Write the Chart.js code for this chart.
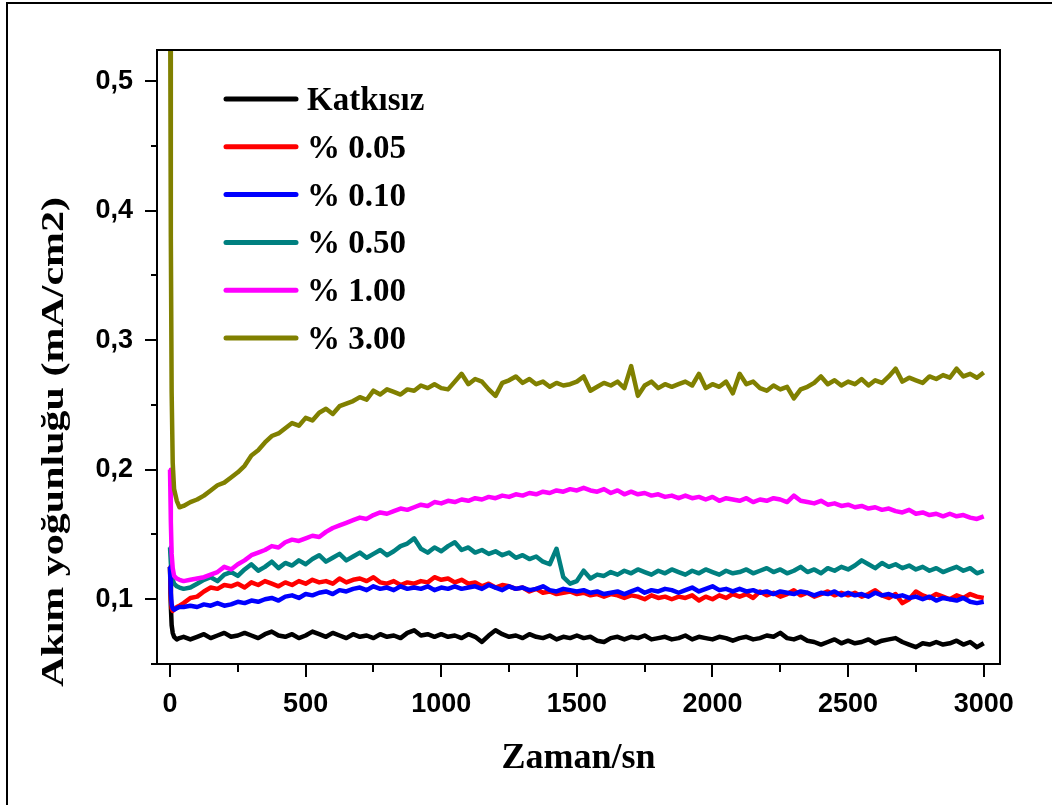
<!DOCTYPE html>
<html>
<head>
<meta charset="utf-8">
<script src="https://cdn.jsdelivr.net/npm/chart.js@4.4.1/dist/chart.umd.min.js"></script>
<style>
  html, body { margin: 0; padding: 0; background: #fff; }
  canvas { display: block; }
</style>
</head>
<body>
<canvas id="chart" width="1052" height="805"></canvas>
<script>
// time axis (s)
var times = [
  0, 3, 6, 10, 15, 25, 35, 50, 75,
  100, 125, 150, 175, 200, 225, 250, 275,
  300, 325, 350, 375, 400, 425, 450, 475,
  500, 525, 550, 575, 600, 625, 650, 675,
  700, 725, 750, 775, 800, 825, 850, 875,
  900, 925, 950, 975, 1000, 1025, 1050, 1075,
  1100, 1125, 1150, 1175, 1200, 1225, 1250, 1275,
  1300, 1325, 1350, 1375, 1400, 1425, 1450, 1475,
  1500, 1525, 1550, 1575, 1600, 1625, 1650, 1675,
  1700, 1725, 1750, 1775, 1800, 1825, 1850, 1875,
  1900, 1925, 1950, 1975, 2000, 2025, 2050, 2075,
  2100, 2125, 2150, 2175, 2200, 2225, 2250, 2275,
  2300, 2325, 2350, 2375, 2400, 2425, 2450, 2475,
  2500, 2525, 2550, 2575, 2600, 2625, 2650, 2675,
  2700, 2725, 2750, 2775, 2800, 2825, 2850, 2875,
  2900, 2925, 2950, 2975, 3000
];

var katkisiz = [
  .125, .095, .080, .074, .071, .069, .070, .071, .069,
  .071, .073, .070, .072, .074, .071, .072, .074,
  .072, .070, .073, .075, .072, .071, .073, .070,
  .072, .075, .073, .071, .074, .072, .070, .073,
  .071, .072, .070, .073, .071, .072, .070, .074,
  .076, .072, .073, .071, .073, .071, .072, .070,
  .073, .071, .067, .072, .076, .073, .071, .072,
  .070, .073, .071, .070, .072, .069, .071, .070,
  .072, .070, .071, .068, .067, .070, .071, .069,
  .071, .070, .072, .069, .070, .071, .069, .070,
  .072, .069, .071, .070, .069, .071, .070, .068,
  .070, .071, .069, .070, .072, .071, .074, .070,
  .069, .071, .068, .067, .065, .067, .069, .066,
  .068, .066, .067, .069, .066, .068, .069, .070,
  .067, .065, .063, .066, .065, .067, .065, .066,
  .068, .065, .067, .063, .066
];

var p005 = [
  .125, .100, .093, .091, .092, .094, .095, .097, .101,
  .102, .106, .109, .108, .111, .110, .112, .109,
  .113, .111, .114, .112, .110, .113, .111, .114,
  .112, .115, .113, .114, .112, .116, .113, .115,
  .116, .114, .117, .113, .112, .114, .111, .113,
  .112, .114, .113, .117, .115, .116, .113, .115,
  .112, .113, .110, .112, .109, .111, .110, .108,
  .109, .106, .108, .105, .106, .104, .105, .106,
  .104, .105, .103, .104, .102, .104, .103, .101,
  .103, .102, .100, .103, .101, .102, .100, .102,
  .101, .103, .099, .102, .100, .103, .101, .104,
  .102, .104, .101, .106, .103, .105, .102, .104,
  .107, .103, .105, .102, .104, .106, .103, .105,
  .103, .105, .102, .104, .107, .103, .101, .104,
  .097, .100, .106, .103, .101, .104, .102, .100,
  .103, .101, .104, .102, .101
];

var p010 = [
  .125, .105, .096, .093, .092, .093, .094, .094, .095,
  .094, .096, .095, .097, .095, .096, .098, .097,
  .099, .098, .100, .101, .099, .102, .103, .101,
  .104, .103, .105, .106, .104, .107, .106, .108,
  .109, .107, .110, .108, .109, .107, .110, .108,
  .109, .108, .110, .107, .109, .108, .110, .108,
  .109, .110, .108, .111, .109, .107, .110, .108,
  .109, .107, .108, .110, .107, .106, .108, .107,
  .106, .107, .105, .106, .104, .105, .106, .104,
  .106, .108, .105, .107, .106, .108, .107, .105,
  .107, .109, .106, .108, .110, .107, .108, .106,
  .108, .106, .107, .105, .106, .104, .106, .105,
  .104, .106, .105, .103, .105, .104, .106, .103,
  .105, .103, .104, .102, .105, .103, .104, .102,
  .103, .101, .102, .100, .102, .099, .101, .100,
  .099, .101, .098, .097, .098
];

var p050 = [
  .140, .128, .120, .115, .112, .110, .109, .108, .109,
  .112, .115, .117, .114, .119, .121, .118, .123,
  .127, .122, .125, .129, .124, .128, .126, .130,
  .127, .131, .134, .129, .132, .135, .130, .133,
  .136, .132, .135, .138, .134, .137, .141, .143,
  .147, .139, .136, .140, .137, .141, .144, .138,
  .140, .136, .138, .135, .137, .134, .136, .132,
  .134, .131, .133, .129, .127, .139, .117, .112,
  .114, .122, .116, .119, .118, .121, .119, .122,
  .120, .123, .121, .119, .122, .120, .123, .121,
  .119, .122, .120, .123, .121, .119, .122, .120,
  .121, .123, .120, .122, .124, .121, .123, .120,
  .122, .125, .121, .123, .120, .124, .122, .125,
  .123, .126, .130, .127, .124, .128, .125, .127,
  .124, .126, .123, .125, .122, .124, .121, .123,
  .125, .122, .124, .120, .122
];

var p100 = [
  .200, .160, .135, .124, .118, .116, .115, .114, .115,
  .116, .117, .119, .121, .125, .123, .127, .130,
  .134, .136, .138, .141, .140, .144, .146, .145,
  .147, .149, .148, .152, .155, .157, .159, .161,
  .163, .162, .165, .167, .166, .168, .170, .169,
  .171, .173, .172, .175, .174, .176, .175, .177,
  .176, .178, .177, .179, .178, .180, .179, .181,
  .180, .182, .181, .183, .182, .184, .183, .185,
  .184, .186, .184, .183, .185, .182, .184, .181,
  .183, .181, .182, .180, .181, .179, .180, .178,
  .180, .178, .179, .177, .179, .176, .178, .177,
  .176, .178, .175, .177, .176, .178, .177, .175,
  .180, .176, .175, .174, .176, .173, .174, .172,
  .173, .171, .172, .170, .171, .169, .170, .168,
  .167, .169, .166, .167, .165, .166, .164, .166,
  .164, .165, .163, .162, .164
];

var p300 = [
  .600, .380, .260, .205, .185, .176, .171, .172, .175,
  .177, .180, .184, .188, .190, .194, .198, .203,
  .211, .215, .221, .226, .228, .232, .236, .234,
  .240, .238, .244, .247, .243, .249, .251, .253,
  .256, .254, .261, .258, .262, .260, .258, .262,
  .261, .265, .263, .266, .263, .262, .268, .274,
  .266, .270, .268, .262, .257, .267, .269, .272,
  .267, .270, .266, .268, .264, .267, .265, .266,
  .268, .272, .261, .264, .267, .265, .268, .263,
  .280, .257, .265, .268, .263, .266, .264, .266,
  .268, .265, .274, .263, .266, .264, .268, .259,
  .274, .266, .268, .263, .261, .265, .262, .264,
  .255, .262, .264, .267, .272, .266, .269, .265,
  .268, .266, .270, .265, .269, .267, .272, .278,
  .268, .271, .269, .267, .272, .270, .273, .271,
  .278, .272, .274, .271, .275
];

var seriesLabels = ["Katkısız", "% 0.05", "% 0.10", "% 0.50", "% 1.00", "% 3.00"];
var seriesValues = [katkisiz, p005, p010, p050, p100, p300];
var seriesColors = ["#000000", "#ff0000", "#0000ff", "#008080", "#ff00ff", "#808000"];
var drawOrder = [5, 3, 2, 4, 1, 0];

var xTicks = [0, 250, 500, 750, 1000, 1250, 1500, 1750, 2000, 2250, 2500, 2750, 3000];
var xTickLabels = ["0", "", "500", "", "1000", "", "1500", "", "2000", "", "2500", "", "3000"];
var yTicks = [0.05, 0.1, 0.15, 0.2, 0.25, 0.3, 0.35, 0.4, 0.45, 0.5];
var yTickLabels = ["", "0,1", "", "0,2", "", "0,3", "", "0,4", "", "0,5"];
var xTitle = "Zaman/sn";
var yTitle = "Akım yoğunluğu (mA/cm2)";

var datasets = seriesValues.map(function (vals, i) {
  return {
    label: seriesLabels[i],
    data: times.map(function (t, k) { return { x: t, y: vals[k] }; }),
    borderColor: seriesColors[i],
    backgroundColor: seriesColors[i],
    borderWidth: 4.5,
    borderJoinStyle: "round",
    pointRadius: 0,
    tension: 0,
    fill: false,
    order: drawOrder[i]
  };
});

var decor = {
  id: "decor",
  beforeDraw: function (chart) {
    var c = chart.ctx;
    c.save();
    c.fillStyle = "#fff";
    c.fillRect(0, 0, chart.width, chart.height);
    c.restore();
  },
  afterDraw: function (chart) {
    var c = chart.ctx, a = chart.chartArea;
    var xs = chart.scales.x, ys = chart.scales.y;
    c.save();
    c.strokeStyle = "#000";
    c.lineWidth = 2;
    c.strokeRect(a.left, a.top, a.right - a.left, a.bottom - a.top);

    // tick marks, long for labelled ones
    c.beginPath();
    xTicks.forEach(function (v, i) {
      var px = Math.round(xs.getPixelForValue(v));
      var len = xTickLabels[i] ? 13 : 8;
      c.moveTo(px, a.bottom);
      c.lineTo(px, a.bottom + len);
    });
    yTicks.forEach(function (v, i) {
      var py = Math.round(ys.getPixelForValue(v));
      var len = yTickLabels[i] ? 12 : 6;
      c.moveTo(a.left, py);
      c.lineTo(a.left - len, py);
    });
    c.stroke();

    // frame of the figure
    c.beginPath();
    c.moveTo(7, chart.height);
    c.lineTo(7, 3);
    c.lineTo(chart.width, 3);
    c.stroke();

    // axis titles
    c.fillStyle = "#000";
    c.textAlign = "center";
    c.textBaseline = "alphabetic";
    c.font = 'bold 36px "Liberation Serif"';
    c.fillText(xTitle, (a.left + a.right) / 2, 768);

    c.save();
    c.font = 'bold 31px "Liberation Serif"';
    var w = c.measureText(yTitle).width;
    c.translate(63, 442);
    c.rotate(-Math.PI / 2);
    c.scale(490 / w, 1);
    c.fillText(yTitle, 0, 0);
    c.restore();

    // legend
    c.textAlign = "left";
    c.font = 'bold 33px "Liberation Serif"';
    c.lineWidth = 5;
    c.lineCap = "round";
    chart.data.datasets.forEach(function (ds, i) {
      var y = 99 + i * 47.8;
      c.strokeStyle = ds.borderColor;
      c.beginPath();
      c.moveTo(226, y);
      c.lineTo(296, y);
      c.stroke();
      c.fillText(ds.label, 307, y + 11);
    });
    c.restore();
  }
};

var tickFont = { family: "Liberation Sans", size: 27, weight: "bold" };

new Chart(document.getElementById("chart"), {
  type: "line",
  data: { datasets: datasets },
  options: {
    responsive: false,
    animation: false,
    layout: { padding: { top: 50, right: 52, left: 0, bottom: 0 } },
    plugins: { legend: { display: false }, tooltip: { enabled: false } },
    scales: {
      x: {
        type: "linear",
        min: -48,
        max: 3060,
        afterFit: function (s) { s.height = 141; },
        afterBuildTicks: function (s) { s.ticks = xTicks.map(function (v) { return { value: v }; }); },
        grid: { display: false },
        border: { display: false },
        ticks: {
          autoSkip: false,
          maxRotation: 0,
          padding: 16,
          color: "#000",
          font: tickFont,
          callback: function (v, i) { return xTickLabels[i]; }
        }
      },
      y: {
        type: "linear",
        min: 0.05,
        max: 0.524,
        afterFit: function (s) { s.width = 157; },
        afterBuildTicks: function (s) { s.ticks = yTicks.map(function (v) { return { value: v }; }); },
        grid: { display: false },
        border: { display: false },
        ticks: {
          autoSkip: false,
          padding: 16,
          color: "#000",
          font: tickFont,
          callback: function (v, i) { return yTickLabels[i]; }
        }
      }
    }
  },
  plugins: [decor]
});
</script>
</body>
</html>
